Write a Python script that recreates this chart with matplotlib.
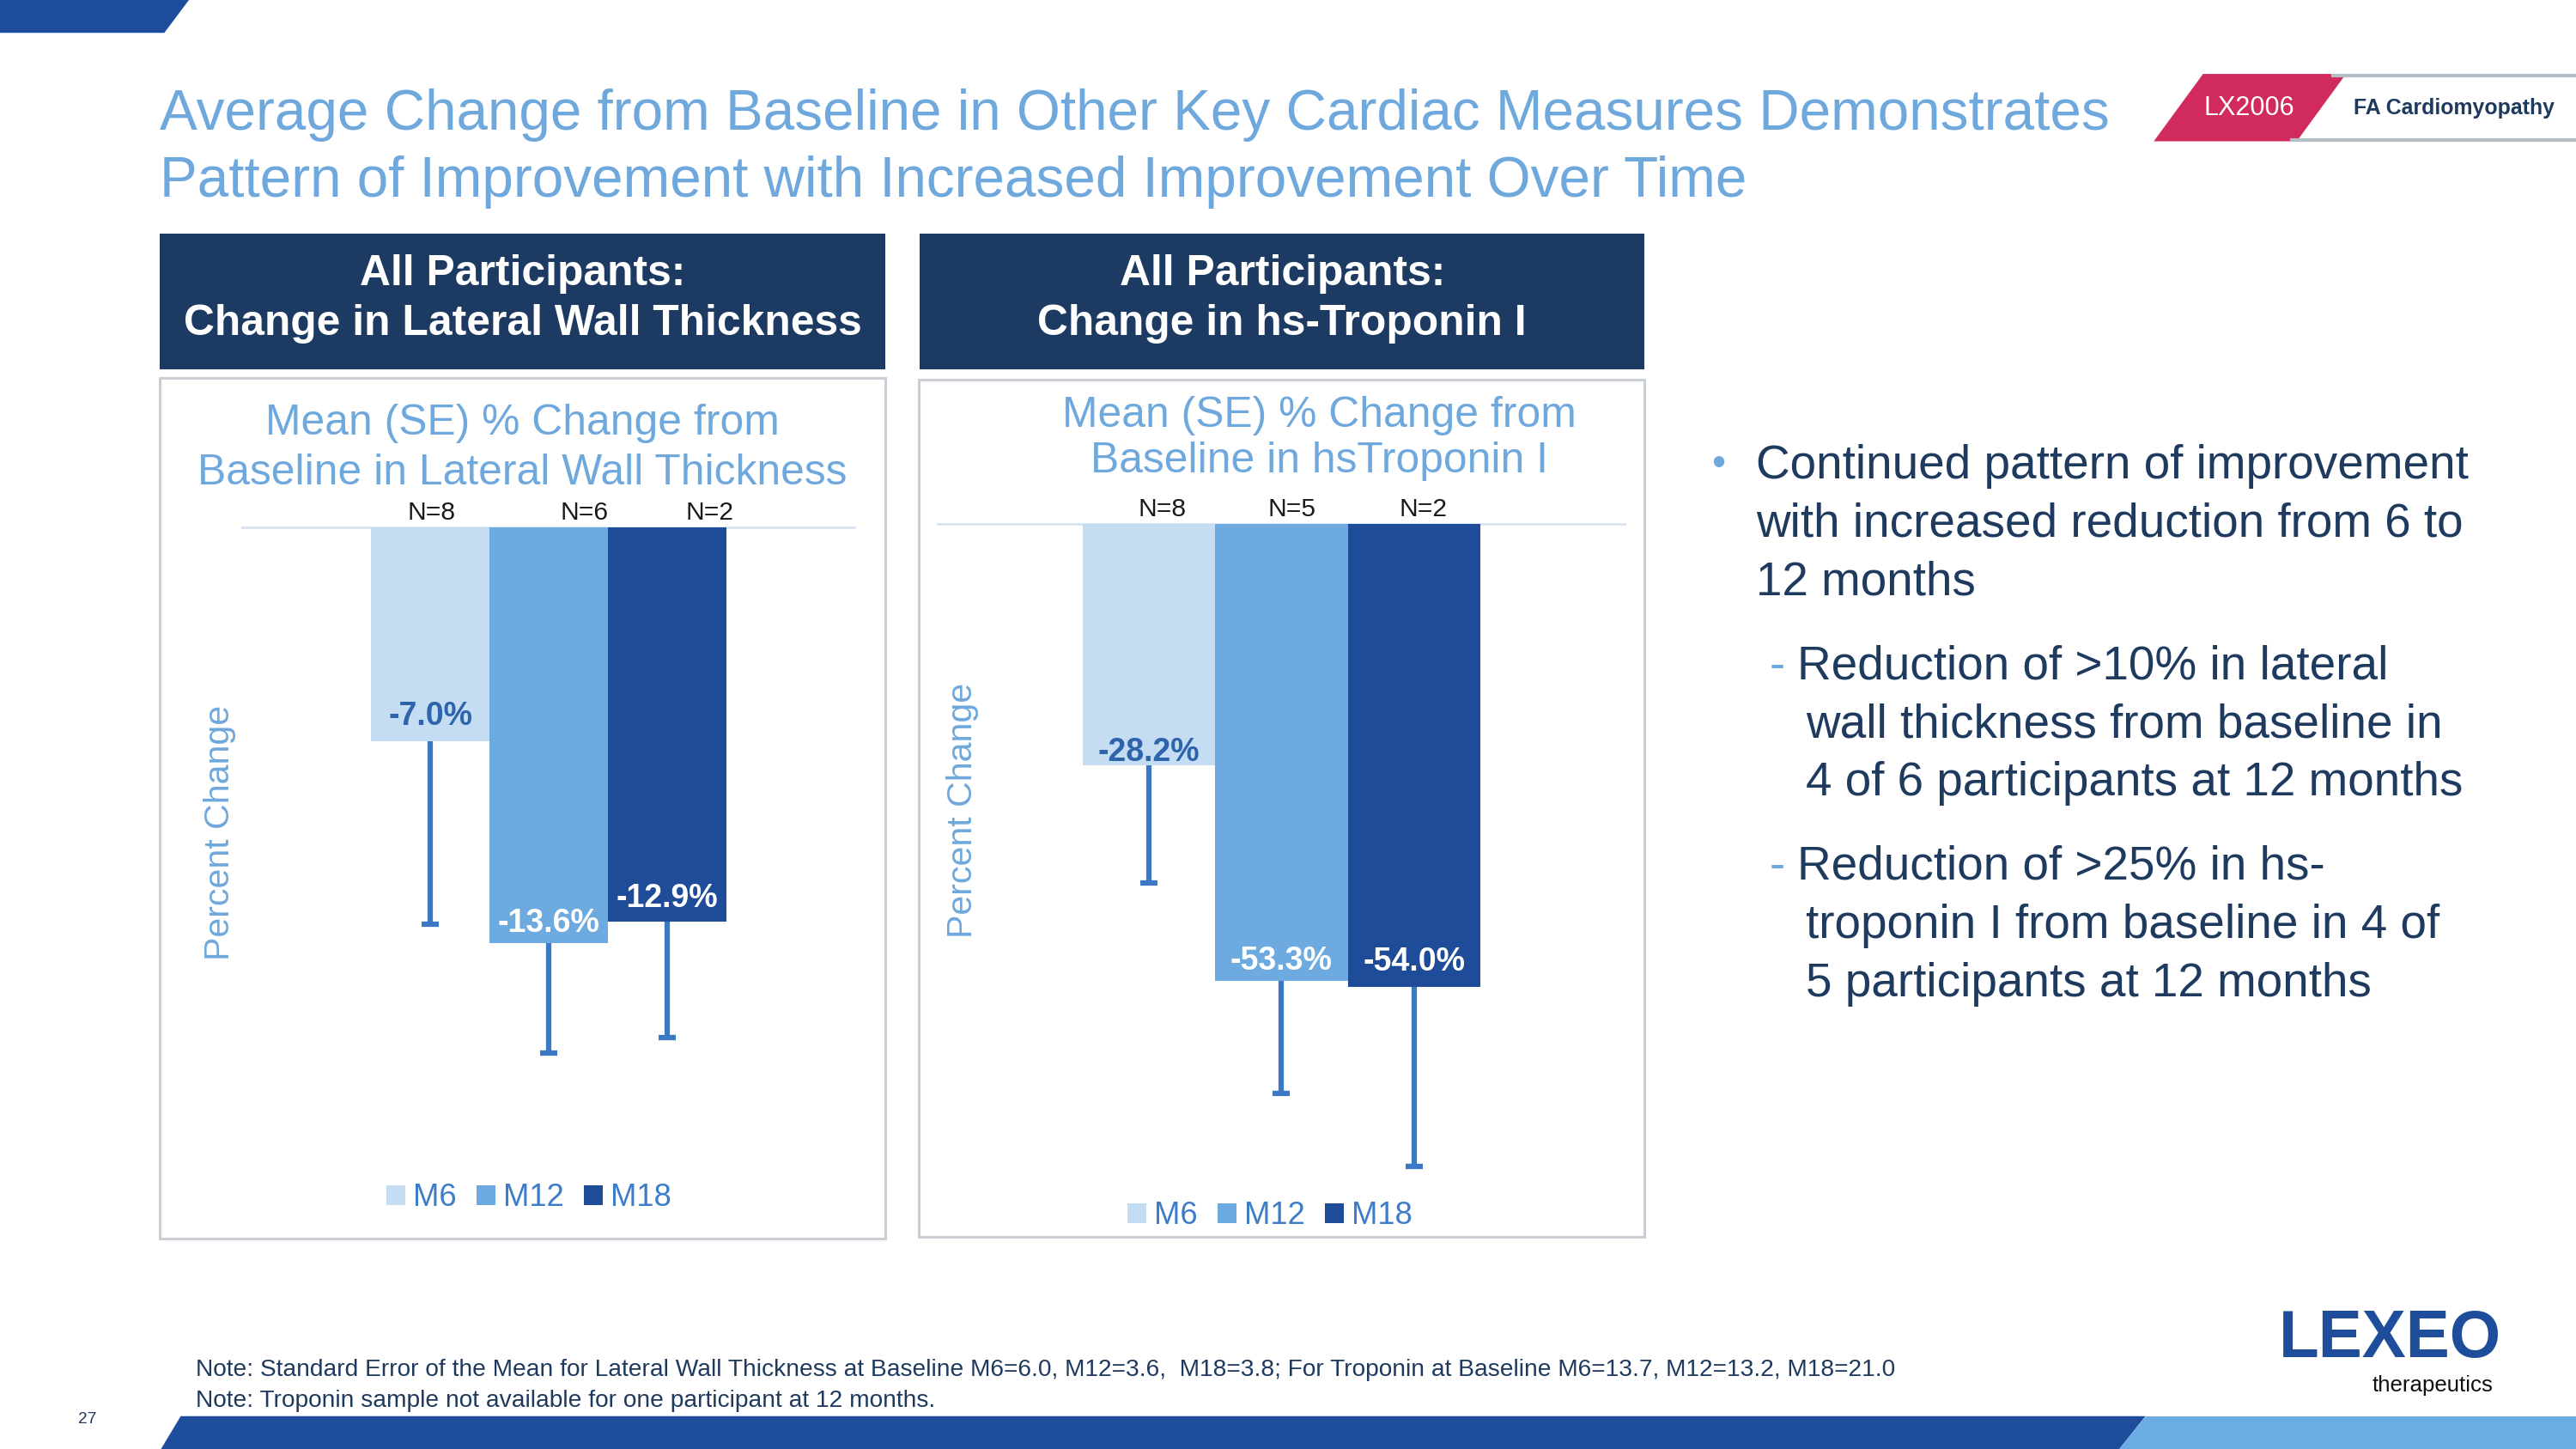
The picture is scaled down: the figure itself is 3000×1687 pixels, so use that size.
import matplotlib.pyplot as plt
import matplotlib.transforms as mtransforms
import numpy as np
from matplotlib.patches import Polygon, Rectangle

plt.rcParams["font.family"] = ["Liberation Sans", "DejaVu Sans"]

# slide layout grid (reference pixels of a 1568x882 view)
W, H = 1568, 882


def fx(x):
    return x / W


def fy(y):
    return 1 - y / H


def pt(px):
    # reference px -> points at 3000px wide / dpi 100
    return px * 3000 / W * 0.72


# data
periods = ["M6", "M12", "M18"]
lwt_mean = [-7.0, -13.6, -12.9]
lwt_se = [6.0, 3.6, 3.8]
lwt_n = [8, 6, 2]
trop_mean = [-28.2, -53.3, -54.0]
trop_se = [13.7, 13.2, 21.0]
trop_n = [8, 5, 2]

title_lines = [
    "Average Change from Baseline in Other Key Cardiac Measures Demonstrates",
    "Pattern of Improvement with Increased Improvement Over Time",
]
bullet_main = [
    "Continued pattern of improvement",
    "with increased reduction from 6 to",
    "12 months",
]
bullet_sub1 = [
    "Reduction of >10% in lateral",
    "wall thickness from baseline in",
    "4 of 6 participants at 12 months",
]
bullet_sub2 = [
    "Reduction of >25% in hs-",
    "troponin I from baseline in 4 of",
    "5 participants at 12 months",
]
notes = [
    "Note: Standard Error of the Mean for Lateral Wall Thickness at Baseline M6=6.0, M12=3.6,  M18=3.8; "
    "For Troponin at Baseline M6=13.7, M12=13.2, M18=21.0",
    "Note: Troponin sample not available for one participant at 12 months.",
]

# colours
light_blue = "#6FA8DC"
navy = "#1D3B62"
text_navy = "#1F3A5F"
bar_colors = ["#C4DDF2", "#6DAAE0", "#1E4C99"]
err_color = "#3B78C6"
legend_color = "#3D7CC9"

fig = plt.figure(figsize=(30, 16.87), dpi=100)
fig.patch.set_facecolor("white")


def poly(points, color):
    fig.patches.append(
        Polygon([(fx(x), fy(y)) for x, y in points], closed=True,
                transform=fig.transFigure, facecolor=color, edgecolor="none")
    )


def rect(x0, y0, x1, y1, face, edge="none", lw=0):
    fig.patches.append(
        Rectangle((fx(x0), fy(y1)), fx(x1) - fx(x0), (y1 - y0) / H,
                  transform=fig.transFigure, facecolor=face, edgecolor=edge, linewidth=lw)
    )


# decorations
poly([(0, 0), (115, 0), (100, 20), (0, 20)], "#1E4D9B")
poly([(110, 862), (1306, 862), (1290, 882), (98, 882)], "#1E4D9B")
poly([(1306, 862), (1568, 862), (1568, 882), (1290, 882)], "#6CACE4")

# badge
fig.add_artist(plt.Line2D([fx(1420), fx(1568)], [fy(46), fy(46)], color="#B4BEC4", lw=3,
                          transform=fig.transFigure))
fig.add_artist(plt.Line2D([fx(1395), fx(1568)], [fy(85), fy(85)], color="#B4BEC4", lw=3,
                          transform=fig.transFigure))
poly([(1341, 45), (1428, 45), (1398, 86), (1311, 86)], "#D12A5C")
fig.text(fx(1369), fy(66), "LX2006", color="white", fontsize=pt(16), ha="center", va="center")
fig.text(fx(1494), fy(66), "FA Cardiomyopathy", color=text_navy, fontsize=pt(13),
         fontweight="bold", ha="center", va="center")

# title
for i, line in enumerate(title_lines):
    fig.text(fx(97), fy(70 + 41 * i), line, color=light_blue, fontsize=pt(34.3),
             ha="left", va="center")

# header boxes
headers = [
    (97, 539, "All Participants:\nChange in Lateral Wall Thickness"),
    (560, 1001, "All Participants:\nChange in hs-Troponin I"),
]
for x0, x1, txt in headers:
    rect(x0, 142, x1, 225, navy)
    fig.text(fx((x0 + x1) / 2), fy(182), txt, color="white", fontsize=pt(26),
             fontweight="bold", ha="center", va="center", linespacing=1.32)

# chart frames
rect(97, 230, 539, 754, "none", "#C9CFD4", 2.2)
rect(559, 231, 1001, 753, "none", "#C9CFD4", 2.2)

fig.text(fx(318), fy(273), "Mean (SE) % Change from\nBaseline in Lateral Wall Thickness",
         color=light_blue, fontsize=pt(26), ha="center", va="center", linespacing=1.33)
fig.text(fx(803), fy(267), "Mean (SE) % Change from\nBaseline in hsTroponin I",
         color=light_blue, fontsize=pt(26), ha="center", va="center", linespacing=1.2)


def draw_chart(box, bar_span, base_y, scale, means, ses, ns, n_dx, lab_dy, ylab_pos, leg_pos):
    left, top, right, bottom = box
    ax = fig.add_axes([fx(left), fy(bottom), (right - left) / W, (bottom - top) / H])
    x = np.arange(len(periods))
    bars = ax.bar(x, means, width=1.0, color=bar_colors, zorder=3)

    eb = ax.errorbar(x, means, yerr=[ses, [0] * len(ses)], fmt="none", ecolor=err_color,
                     elinewidth=4.5, capsize=7.5, capthick=4.5, zorder=2)
    for cl in eb[1]:
        if np.allclose(cl.get_ydata(), means):
            cl.set_visible(False)

    ax.axhline(0, color="#D6E4F1", lw=2, zorder=1)

    unit = (bar_span[1] - bar_span[0]) / len(periods)
    ax.set_xlim(-0.5 - (bar_span[0] - left) / unit, len(periods) - 0.5 + (right - bar_span[1]) / unit)
    ax.set_ylim(-(bottom - base_y) / scale, (base_y - top) / scale)
    ax.axis("off")

    n_trans = mtransforms.offset_copy(ax.transData, fig=fig, x=0, y=pt(9), units="points")
    for i, (m, n) in enumerate(zip(means, ns)):
        ax.text(i + n_dx[i], 0, f"N={n}", transform=n_trans, ha="center", va="center",
                fontsize=pt(15.7), color="#1a1a1a", clip_on=False)
        lab_trans = mtransforms.offset_copy(ax.transData, fig=fig, x=0, y=pt(lab_dy[i]),
                                            units="points")
        ax.text(i, m, f"{m:.1f}%", transform=lab_trans, ha="center", va="center",
                fontsize=pt(19.6), fontweight="bold",
                color="#2E64AC" if i == 0 else "white", zorder=5)

    fig.text(fx(ylab_pos[0]), fy(ylab_pos[1]), "Percent Change", rotation=90, color=light_blue,
             fontsize=pt(21.5), ha="center", va="center")

    leg = ax.legend(list(bars), periods, loc="center", ncol=3, frameon=False,
                    bbox_to_anchor=(fx(leg_pos[0]), fy(leg_pos[1])), bbox_transform=fig.transFigure,
                    fontsize=pt(19), handlelength=0.6, handleheight=0.6, handletextpad=0.25,
                    columnspacing=0.65)
    for t in leg.get_texts():
        t.set_color(legend_color)
    return ax


draw_chart((147, 300, 521, 700), (226, 442), 321, 18.6, lwt_mean, lwt_se, lwt_n,
           [0.01, 0.3, 0.36], [15, 12, 14], (134, 507), (322, 729))
draw_chart((570, 300, 990, 730), (659, 901), 319, 5.215, trop_mean, trop_se, trop_n,
           [0.1, 0.08, 0.07], [8, 12, 15], (586, 493), (773, 740))

# bullets
fig.text(fx(1046), fy(283), "\u2022", color="#6FA8DC", fontsize=pt(24), ha="center", va="center")
for i, line in enumerate(bullet_main):
    fig.text(fx(1069), fy(284 + 35.3 * i), line, color=text_navy, fontsize=pt(28.7),
             ha="left", va="center")
for y0, lines in [(406, bullet_sub1), (528, bullet_sub2)]:
    fig.text(fx(1077), fy(y0), "-", color="#6FA8DC", fontsize=pt(28.7), ha="left", va="center")
    for i, line in enumerate(lines):
        xx = 1094 if i == 0 else 1099
        fig.text(fx(xx), fy(y0 + 35.5 * i), line, color=text_navy, fontsize=pt(28.7),
                 ha="left", va="center")

# footnotes
for i, line in enumerate(notes):
    fig.text(fx(119), fy(834 + 18.5 * i), line, color=text_navy, fontsize=pt(14.7),
             ha="left", va="center")
fig.text(fx(53), fy(864), "27", color=text_navy, fontsize=pt(10), ha="center", va="center")

# logo
fig.text(fx(1455), fy(826), "LEXEO", color="#1E4D9B", fontsize=pt(40), fontweight="bold",
         ha="center", va="baseline")
fig.text(fx(1481), fy(847), "therapeutics", color="#111111", fontsize=pt(13.5), ha="center",
         va="baseline")

fig.savefig("out.png", dpi=100, facecolor="white")
